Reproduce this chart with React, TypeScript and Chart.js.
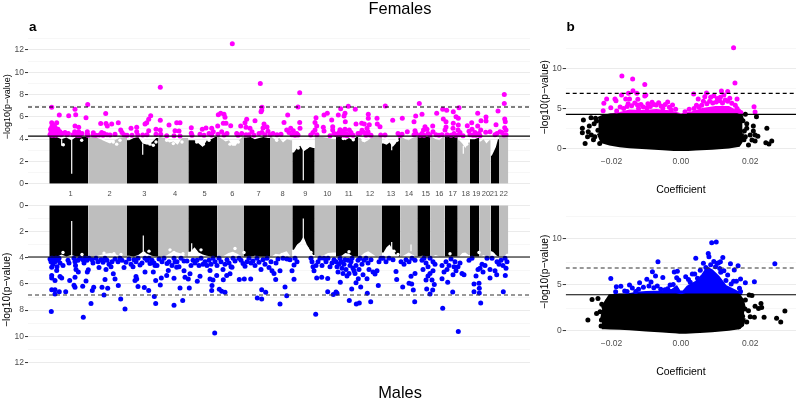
import { useEffect, useRef } from "react";
import { Chart, registerables } from "chart.js";

Chart.register(...registerables);

type P = [number, number];

// Manhattan panels: genome position (0 = start of chromosome 1)
const chromNames = ["1","2","3","4","5","6","7","8","9","10","11","12","13","14","15","16","17","18","19","20","21","22"];
const chromStart = [0.3,39.3,78,109.5,139.3,168.3,195,221,243.3,265.7,287,309.3,333,351.3,368.3,381.3,395.7,408.7,421,430.3,441.7,450,459.3];
const chromTick = [21.7,60.7,95.3,126,155.7,183.3,209.7,233.7,256.3,278.3,299.7,321,342,360,376.7,390.3,403.7,416.7,427.3,437,445,454.7];

const femaleTops: number[][] = [
  [4.2,4.2,4.0,4.15,3.9,4.2,4.2,4.2],
  [4.2,4.2,4.0,3.8,3.6,3.9,4.15,4.2],
  [3.9,4.1,4.2,3.6,3.5,3.7,4.1],
  [4.2,4.1,3.7,3.8,3.5,4.1,4.1],
  [3.9,3.9,3.6,3.3,3.9,4.0,4.2],
  [4.2,4.0,3.8,3.9,3.4,3.4,3.9,4.2],
  [4.15,4.2,4.0,4.1,4.2,4.1],
  [4.2,3.9,4.1,3.7,4.0,3.9],
  [2.8,3.2,3.4,2.9,3.1,3.3,3.2],
  [4.2,4.2,4.1,4.0],
  [4.2,4.2,3.9,4.1,3.9,4.2],
  [4.1,3.7,3.9,4.2,4.2,4.2],
  [3.6,3.5,3.7,3.3,3.6,4.1],
  [4.2,4.0,3.9,4.1,4.2],
  [4.2,4.2,4.2,4.2],
  [4.2,4.0,3.9,4.2],
  [4.2,4.2,4.2,4.2],
  [3.9,3.6,3.2,3.7],
  [4.0,4.0,4.1],
  [3.8,4.0,3.6,3.9],
  [2.5,2.9,3.3,4.0],
  [4.2,4.2,4.2],
];
const maleTops: number[][] = [
  [3.9,3.95,3.75,3.9,3.8,3.9,3.9,3.9],
  [3.95,3.9,3.8,3.7,3.65,3.7,3.9,3.9],
  [3.85,3.9,3.8,3.55,3.7,3.85,3.9],
  [3.95,3.9,3.7,3.5,3.6,3.7,3.9],
  [3.55,3.2,3.6,3.75,3.85,3.9,3.95],
  [3.95,3.85,3.65,3.55,3.7,3.9],
  [3.9,3.9,3.85,3.9,3.9,3.9],
  [3.9,3.7,3.75,3.6,3.5,3.9],
  [3.4,3.0,2.8,2.4,3.0,3.4,3.8],
  [3.9,3.85,3.65,3.6],
  [3.9,3.85,3.65,3.7,3.9,3.9],
  [3.9,3.65,3.5,3.7,3.9,3.85],
  [3.6,3.2,3.0,3.4,3.75,3.9],
  [3.9,3.75,3.6,3.75,3.9],
  [3.9,3.85,3.9,3.9],
  [3.9,3.8,3.9,3.9],
  [3.9,3.9,3.9,3.9],
  [3.9,3.65,3.6,3.8],
  [3.9,3.9,3.9],
  [3.9,3.8,3.9,3.9],
  [3.5,3.6,3.8,3.9],
  [3.9,3.9,3.7],
];

// narrow centromere streaks: [position, from, to]
const femaleStreaks: number[][] = [[22.7,0.9,4.0],[12.7,3.4,4.0],[93.7,2.6,3.6],[254.3,0.3,3.0],[342.7,3.0,3.6],[414.3,2.7,3.4]];
const maleStreaks: number[][] = [[22.7,1.2,3.9],[94.3,2.3,3.7],[142.7,2.9,3.5],[254.3,1.0,3.3],[342.7,2.8,3.5],[362,3.0,3.5]];

const femaleGaps: P[] = [[14.3,3.5],[32.7,3.9],[54.3,4.05],[64.3,3.75],[67.7,3.55],[71,3.9],[94.3,4.05],[101,3.55],[104.3,3.45],[107,3.75],[117.7,3.9],[124.3,3.6],[133,3.75],[147.7,3.75],[154.3,3.55],[160,3.9],[181,3.55],[189.3,3.75],[227.7,3.9],[236,4.05],[249.3,3.2],[257.7,3.3],[294.3,4.05],[304.3,3.95],[314.3,3.9],[337.7,3.9],[344.3,3.75],[348,3.9],[417.7,3.55]];
const maleGaps: P[] = [[14,3.6],[33,3.75],[55,3.65],[65,3.7],[72,3.75],[95,3.65],[100,3.5],[121,3.4],[125,3.6],[134,3.7],[146,3.5],[152,3.4],[186,3.3],[195,3.6],[233,3.75],[238,3.85],[252,3.5],[258,3.3],[262,3.6],[300,3.55],[340,3.3],[345,3.5],[349,3.75],[401,3.7],[430,3.6]];

const femaleThreshold = 4.27;
const femaleGenomeWide = 6.88;
const maleThreshold = 3.95;
const maleGenomeWide = 6.85;

const femaleHits: P[] = [
  [2.7,6.86],[2.7,5.48],[2.7,5.1],[1,4.4],[1.5,4.9],[2,4.6],[3,4.35],[3.3,5.0],[4,4.5],[4,5.3],[5,4.4],[5.5,4.8],[6,5.1],[6.5,4.35],[7,4.6],[7.7,5.48],[8,4.4],[9,4.9],[10,4.5],[10.3,6.17],[11,4.67],[12,4.4],[13.7,4.5],[16,4.6],[18,4.4],
  [19.3,4.5],[19.7,6.1],[24,4.4],[25.7,4.67],[26,5.18],[26,6.68],[26.7,6.2],[27,4.4],[28.5,4.35],[29.7,4.67],[29.7,5.06],[31,4.35],[33,4.5],[37,5.93],[38.3,4.67],[38.3,4.43],[38.7,7.1],[39,4.35],
  [44.3,4.58],[44.3,4.37],[47,4.35],[50.3,4.37],[51.7,5.4],[52.7,4.6],[54,4.35],[55,4.5],[56.7,6.3],[57,5.4],[58.3,5.18],[58,4.4],[61,4.37],[62.7,5.36],[66,4.43],[69.3,5.48],[71.7,4.82],[73,4.6],[75,4.4],[78,4.35],
  [82,4.97],[83,4.35],[87.7,5.06],[87.7,4.67],[88.7,4.37],[93.7,4.37],[96,5.36],[97.7,5.48],[99.7,5.78],[101.7,6.1],[99.7,4.76],[98,4.4],[107,4.88],[107,4.43],[111.3,8.65],[111.3,5.69],[111.3,4.82],[111.7,4.43],
  [117.7,4.31],[120,5.27],[126,4.76],[127.7,5.48],[131,5.48],[130,4.73],[131,4.28],[125,4.3],[142.3,5.03],[142.3,4.52],[143,4.35],[153.3,4.88],[157,5],[151,4.43],[155,4.34],[162.7,4.97],[164.3,4.67],[162.7,4.37],[160,4.5],
  [168.7,5.18],[169.3,6.2],[171.7,6.32],[175,6.23],[176,5.96],[174.3,5.42],[177,5.42],[181.7,5.2],[183.3,12.57],[172.7,4.67],[175,4.37],[169,4.45],[178,4.5],[187.7,4.5],[191.7,5.18],[192.7,4.5],[189,4.35],[196,5.48],[197.7,5.78],[197,5.06],[197,4.4],[201,4.97],[203,4.67],[200,4.4],[205,4.35],
  [206,5.66],[211.3,9.0],[213,6.86],[212.7,6.6],[212,6.47],[215,5.36],[214,5.0],[213,4.6],[216,4.4],[210,4.5],[218,5.1],[219,4.7],[221,4.4],[224,4.5],[228,4.4],[232,4.45],
  [235,5.5],[238.7,6.17],[237.7,4.82],[241.7,4.97],[244.3,4.76],[240,4.6],[247.7,4.5],[250.7,8.17],[249,6.89],[250.7,5.5],[251,4.97],[249,4.37],[243,4.4],[246,4.35],
  [267,5.93],[266,5.5],[267.7,5.18],[266,4.82],[261.7,4.37],[264,4.6],[268,4.4],[275,6.17],[278.3,6.32],[274.3,5.06],[275,4.73],[282.7,5.72],[283.7,5.12],[283.7,4.82],[281,4.31],[285,4.5],[287,4.45],
  [289.3,6.17],[291.7,6.74],[296,6.32],[295,6.08],[296.3,5.57],[299.3,6.95],[306.3,6.68],[307,5.36],[300.3,4.82],[288,4.4],[290,4.6],[291,4.85],[292,4.4],[293.5,4.7],[295,4.35],[296,4.9],[297,4.5],[298,4.3],[300,4.4],[302,4.6],[304,4.35],[309,4.5],
  [312.7,5.42],[315.3,5.36],[319.3,6.23],[319.3,5.87],[320.3,5.3],[318,4.97],[319,4.67],[311,4.5],[313,4.8],[315,4.6],[317,4.35],[320,4.4],[322,4.35],[328,5.87],[328.3,5.36],[331,5.12],[331.7,4.37],
  [336.3,6.98],[336,4.37],[343.7,5.69],[353.3,5.87],[349,4.5],[353,4.43],[351,4.33],[358.3,4.67],[366.7,6.08],[365,5.57],[366,4.76],[365,4.4],[367,4.5],[370.3,7.19],[373,6.23],[376,5.12],[374.5,4.82],[373,4.5],[378,4.9],[371,4.35],[375,4.35],
  [383.7,5.18],[384,4.67],[381,4.37],[379,4.5],[387,4.4],[387.7,6.32],[393.7,6.68],[397.7,6.59],[394.3,5.81],[397,5.57],[396,4.82],[397,5.1],[393,4.4],[390,4.35],[398,4.4],
  [404.3,6.47],[410,6.83],[407,6.02],[409.3,5.87],[404.3,5.42],[409.3,5.27],[404,4.97],[409,4.82],[402,4.35],[405,4.5],[407,4.35],[410,4.4],[411,4.6],[414,4.3],
  [418.3,5.21],[422.7,5.48],[428.7,6.32],[428.7,5.18],[431.7,4.82],[432,5.66],[420,4.7],[421,4.4],[424,4.35],[423,4.9],[426,4.6],[427,4.35],[430,4.5],[431,4.3],[437,5.99],[437,5.63],[436.7,4.61],[441,4.67],
  [447,5.3],[449,6.53],[455.3,8.02],[455.3,7.19],[455.7,5.81],[456.3,5.57],[455.7,5.03],[457,4.82],[455,4.37],[451,4.67],[448,4.5],[453,4.6],[457,4.4],[446,4.4],
];

const maleHits: P[] = [
  [2.3,8.1],[34.3,8.54],[76,7.92],[71.7,7.15],[42,7.49],[55,6.85],[106.7,7.49],[105.3,6.97],[99.7,6.51],[95.3,6.28],[125,7.62],[133.7,7.26],[165.7,9.74],[162.7,6.51],[163,6.13],[131,6.31],
  [2.7,6.44],[6,6.44],[6,6.77],[10.3,6.59],[16.7,6.59],[26,6.26],[25,6.1],[33.7,6.18],[44.7,6.26],[43.3,6.51],[37,5.77],[20.7,5.74],[53,6.26],[58.7,6.33],[69.3,6.13],[89,6.2],[111.3,6.08],[106.7,5.74],[125,5.56],[112.3,5.54],[140.3,6.31],[148.3,5.79],[151,5.41],[161,5.62],[164,5.7],
  [170.3,6.41],[172.7,6.56],[176,6.64],[174.3,5.69],[177.7,5.36],[190.3,5.67],[195.3,5.62],[201.7,5.62],[208.3,7.08],[212.7,7.15],[212.7,6.44],[216.7,6.64],
  [2.7,5.54],[6,5.74],[2.7,5.36],[11,5.44],[12.7,5.54],[2.7,4.72],[7.7,4.97],[26,5.49],[29.3,5.1],[38.3,5.1],[39.3,4.92],[56,5.67],[66,5.62],[64.3,5.23],[87.7,5.62],[86,5.74],[87,5.44],[96,5.1],[104.3,5.1],[106,4.6],[117.7,5.36],[119.3,4.97],[127.7,4.72],[126,4.33],[136,5.49],[139.3,5.62],[135,5],[141,5.23],[161,4.97],[167.7,5.36],[183,4.72],[181,5.23],
  [1,4.1],[2,4.3],[3,4.05],[4,4.5],[5,4.15],[6,4.3],[7,4.05],[8,4.7],[9,4.2],[10,4.05],[11,4.4],[14,4.6],[19,4.2],[20,4.4],[25,4.05],[26,4.3],[26.5,4.6],[27,4.9],[29,4.2],[31,4.05],[34,4.15],[35,4.4],[36,4.05],[38,4.2],[40,4.05],[43,4.15],[44,4.4],[47,4.05],[49,4.3],[50,4.75],[52,4.15],[54,4.35],[56,4.05],[57,4.9],[58,4.2],[60,4.5],[62,4.7],[63,4.3],[66,4.1],[69,4.3],[71,4.05],[73,4.2],[75,4.75],[77,4.35],[80,4.1],[82,4.5],[84,4.7],[85,4.15],[87,4.3],[89,4.05],[91,4.55],[93,4.4],[96,4.05],[98,4.2],[100,4.05],[101,4.45],[103,4.2],[105,4.4],[108,4.6],[110,4.1],[113,4.3],[115,4.05],[118,4.45],[120,4.3],[123,4.6],[125,4.05],[128,4.3],[130,4.7],[132,4.05],[135,4.25],[138,4.25],[142,4.6],[144,4.2],[146,4.4],[148,4.2],[150,4.6],[152,4.05],[154,4.5],[156,4.3],[158,4.6],[160,4.2],[162,4.5],[164,4.05],[166,4.3],[168,4.6],[170,4.05],[172,4.3],[174,4.9],[176,4.5],[178,4.15],[180,4.4],[182,4.7],[184,4.05],[186,4.25],[190,4.05],[192,4.2],[194,4.45],[196,4.65],[198,4.3],[200,4.05],[202,4.4],[204,4.25],[206,4.6],[208,4.05],[210,4.35],[212,4.9],[214,4.15],[216,4.5],[218,4.05],[220,4.75],[222,4.3],
  [231,7.54],[237.7,6.9],[236,6.23],[226.7,5.67],[245,5.64],[231,5],[225,5.2],[223,5.0],[227,4.4],[229,4.1],[243,5],[245,4.55],[248,4.3],[234,4.05],[238,4.1],[241,4.15],[246,4.05],
  [266.7,8.31],[267.7,5.54],[272.7,5.49],[278.7,5.59],[278.7,6.59],[284.3,6.8],[287,6.62],[288,6.72],[291.3,5.87],[302.7,6.38],[300.3,7.26],[307.3,7.54],[310.3,7.46],[311.7,6.23],[307,5.92],[309.3,5.6],[318.3,6.72],[321.7,7.36],[329.3,6.13],[318,5.6],[314,5.3],
  [262,4.05],[263,4.3],[264,4.7],[265,5],[267,4.6],[269,4.3],[271,4.05],[273,4.6],[275,4.05],[277,4.3],[279,4.05],[281,4.7],[283,4.4],[285,4.15],[287,4.3],[288,4.7],[289,5.1],[290,4.5],[291,4.05],[292,4.3],[293,4.8],[294,5.2],[295,4.5],[296,4.15],[297,4.9],[298,5.4],[299,4.2],[300,5.2],[301,4.6],[302,4.3],[303,4.05],[304,4.8],[305,5.0],[306,5.2],[307,4.6],[309,4.2],[310,4.9],[311,4.05],[313,4.5],[315,4.2],[317,4.05],[319,4.4],[320,4.9],[322,4.15],[324,5.1],[326,5.25],[328,5.0],[330,4.3],[332,4.05],[334,4.05],[337,4.3],[340,4.05],[344,4.15],[347,5.05],[347.7,5.67],[353.7,6.23],[360,5.95],[364.3,6.46],[365.7,7.36],[362,5.41],[362.7,6.0],[366,5.2],[352,4.3],[355,4.5],[357,4.15],[360,4.3],[363,4.05],[366,4.2],
  [377.7,6.38],[381,6.77],[383.7,6.46],[385.3,6.05],[393.7,7.85],[409.3,9.64],[403.7,6.62],[398.7,5.87],[393,5.6],[374,4.9],[377,5.7],[379,5.4],[381,5.2],[383,5.7],[384,5.0],[373,4.2],[375,4.05],[377,4.4],[379,4.7],[381,4.05],[384,4.3],[386,4.5],[393,4.6],[395,5.1],[397,4.3],[398,4.9],[400,4.6],[402,4.1],[404,5.3],[405,4.7],[406,4.3],[407,5.0],[409,4.7],[411,4.4],[413,5.2],[415,5.3],
  [425,6.59],[430.3,6.69],[431.7,7.46],[430.3,6.33],[430,5.95],[425,6],[454.3,6.59],[447.7,5.3],[456.3,5.36],[441,5.54],[420,4.2],[423,4.05],[427,5.4],[429,4.9],[431,4.8],[433,4.5],[434,5.1],[436,4.6],[438,4.05],[441,4.9],[443,4.05],[446,5.0],[448,4.3],[450,4.5],[452,4.2],[454,4.6],[456,4.05],[457,4.8],[458,4.3],
];

// Volcano panels
const coefTicks = [-0.02, 0, 0.02];
const coefTickLabels = ["\u22120.02", "0.00", "0.02"];

const femaleCloudX = [-0.0238,-0.0228,-0.0205,-0.0176,-0.0148,-0.01,-0.0052,-0.0014,0,0.0014,0.0043,0.009,0.0138,0.0167,0.0174,0.0178];
const femaleCloudTop = [3.78,3.98,4.19,4.23,4.23,4.23,4.23,4.23,4.1,4.23,4.23,4.23,4.23,4.23,4.19,3.57];
const femaleCloudBottom = [1.91,0.87,0.58,0.37,0.25,0.12,0,-0.12,-0.17,-0.12,-0.04,0.04,0.21,0.41,0.87,1.91];
const femaleCapX = [-0.0205,-0.0176,-0.0148,-0.0109,-0.0071,-0.0033,-0.001,0,0.001,0.0033,0.0062,0.01,0.0138,0.0162,0.0176];
const femaleCapTop = [4.27,4.45,4.75,4.7,4.8,4.65,4.4,4.27,4.35,4.55,4.95,5.2,5.2,4.6,4.27];

const maleCloudX = [-0.0228,-0.0219,-0.0205,-0.0176,-0.0148,-0.01,-0.0052,-0.0014,0,0.0014,0.0043,0.009,0.0138,0.0167,0.0178,0.0183];
const maleCloudTop = [1.38,3.0,3.85,3.92,3.92,3.92,3.92,3.92,3.85,3.92,3.92,3.92,3.92,3.92,3.37,2.5];
const maleCloudBottom = [0.36,0.36,0.33,0.29,0.25,0.11,0,-0.11,-0.18,-0.15,-0.08,0.04,0.18,0.36,0.65,1.4];
const maleCapX = [-0.019,-0.0157,-0.0129,-0.0100,-0.0052,-0.0024,-0.0012,-0.0003,0.0007,0.0019,0.0043,0.0062,0.0076,0.009,0.0109,0.0129,0.0157,0.0176];
const maleCapTop = [3.95,3.95,4.15,4.25,4.3,4.5,4.85,4.3,4.3,4.85,5.35,6.1,6.9,6.6,5.9,4.9,4.4,3.95];

const femaleCoefHits: P[] = [
  [-0.017,9.05],[-0.0139,8.67],[-0.0104,8.0],[-0.0104,6.56],[-0.0101,6.68],[-0.0138,7.2],[-0.0151,6.89],[-0.0127,6.89],[-0.0171,6.68],[-0.0214,6.18],[-0.019,6.18],[-0.0187,5.98],[-0.0222,5.64],[-0.0224,4.73],[-0.0202,5.1],[-0.0159,6.18],[-0.0148,6.18],[-0.0124,6.15],[-0.0152,5.6],[-0.0083,5.77],[-0.0064,5.73],[-0.0038,5.8],[-0.0024,5.44],[-0.0057,5.3],[-0.0071,5.44],[-0.0175,5.2],[-0.0185,4.7],[-0.0165,5.0],[-0.0133,5.7],[-0.0115,5.5],[-0.0095,5.6],[-0.0045,5.5],[-0.0015,4.9],[-0.0028,4.8],
  [-0.0155,5.25],[-0.0142,5.35],[-0.0125,5.45],[-0.0108,5.2],[-0.0088,5.25],[-0.0078,5.5],[-0.0052,5.05],[-0.0033,5.15],[-0.0122,5.0],[-0.0098,5.05],
  [0.0037,6.8],[0.005,6.18],[0.0074,6.93],[0.0069,6.47],[0.0117,7.18],[0.0135,7.1],[0.0124,6.68],[0.0152,12.57],[0.0156,8.17],[0.0162,6.18],[0.0141,6.27],[0.0114,6.4],[0.0095,6.6],[0.0086,6.4],[0.0211,5.23],[0.0214,4.56],[0.0162,5.0],[0.0167,4.7],[0.0157,5.4],[0.0105,6.25],[0.0135,5.9],[0.0065,5.9],[0.0052,5.2],[0.0038,5.0],[0.0024,4.9],[0.0012,4.6],[0.0173,4.5],
  [0.0075,5.6],[0.0083,5.9],[0.0092,5.7],[0.0102,5.8],[0.0112,5.95],[0.012,5.7],[0.0128,6.05],[0.0147,5.65],[0.006,5.4],[0.0045,5.4],
];
const femaleCoefBelow: P[] = [
  [-0.0281,3.57],[-0.0259,3.86],[-0.0246,3.78],[-0.0243,3.45],[-0.0284,2.53],[-0.0284,1.99],[-0.0264,2.82],[-0.0267,2.1],[-0.0276,0.66],[-0.025,3.1],[-0.0269,1.5],[-0.0248,1.5],[-0.0252,1.1],[-0.0234,0.66],[-0.0239,2.3],[-0.0258,1.7],
  [0.0186,4.27],[0.0218,3.98],[0.0179,3.49],[0.019,2.53],[0.0209,2.82],[0.0209,2.2],[0.0248,2.53],[0.0186,1.5],[0.02,1.7],[0.0214,1.7],[0.0222,1.55],[0.0205,1.08],[0.0214,0.95],[0.0195,0.46],[0.0245,0.75],[0.0254,0.58],[0.0262,0.95],[0.019,3.1],[0.0183,2.2],[0.0182,1.1],
];
const maleCoefHits: P[] = [
  [0.0271,7.32],[-0.0066,7.54],[-0.0202,5.72],[-0.0186,4.82],[-0.0173,4.86],[-0.0188,4.28],[-0.0162,4.35],[-0.0148,5],[-0.014,4.67],[-0.0119,5.25],[-0.0098,5.62],[-0.0082,6.45],[-0.0073,5.98],[-0.0086,5.33],[-0.0052,5.83],[-0.0019,6.41],[-0.001,6.49],[-0.0012,5.8],[-0.0006,5.55],[-0.0031,5.0],[-0.0046,4.5],[-0.013,4.3],[-0.0155,4.3],[-0.0068,4.9],
  [-0.0108,4.75],[-0.0092,4.9],[-0.0078,4.7],[-0.0058,4.55],[-0.0038,4.6],[-0.0022,5.05],[-0.0122,4.55],
  [0.0043,7.9],[0.0089,9.6],[0.0102,9.67],[0.0079,8.44],[0.0081,8.08],[0.0121,8],[0.0114,7.54],[0.0105,7.36],[0.0143,7.32],[0.0165,7.1],[0.0154,6.63],[0.0065,7.36],[0.0086,7.2],[0.0124,6.56],[0.0172,5.65],[0.0212,5.36],[0.0186,5.25],[0.0169,4.64],[0.0172,4.3],[0.0033,6.2],[0.004,6.2],[0.0014,5.9],[0.0108,7.4],[0.0135,6.1],[0.0152,5.4],[0.016,5.4],[0.0056,6.6],[0.01,7.0],[0.0022,5.6],
  [0.0048,5.75],[0.0027,5.3],[0.0115,6.4],[0.013,5.5],[0.0145,5.1],[0.0072,6.9],[0.0095,7.55],[0.0112,6.8],
];
const maleCoefBelow: P[] = [
  [-0.0268,1.2],[-0.0256,3.44],[-0.0239,3.55],[-0.0243,1.9],[-0.0233,2.1],[-0.0222,2.64],[-0.0212,3.2],[-0.0228,2.9],[-0.0229,1.2],[-0.023,0.55],[-0.0224,0.55],[-0.0208,2.4],[-0.0195,3.7],
  [0.0197,3.91],[0.0186,3.37],[0.0169,3.3],[0.0172,2.2],[0.0195,2.2],[0.0214,2.7],[0.0224,2.45],[0.0231,3],[0.0233,2.55],[0.024,1.49],[0.0276,1.38],[0.03,2.17],[0.0288,0.98],[0.02,1.56],[0.0212,1.49],[0.019,0.98],[0.0167,0.47],[0.0205,3.85],[0.0185,2.4],[0.0178,1.6],
];

const FONT = "'Liberation Sans', Arial, sans-serif";
const GREY = "#4d4d4d";
const MAGENTA = "#ff00ff";
const BLUE = "#0000ff";

const yGrid = (isMajor: (v: number) => boolean) => ({
  drawTicks: true,
  tickLength: 3,
  color: (c: any) => (isMajor(c.tick.value) ? "#ebebeb" : "#f3f3f3"),
  lineWidth: (c: any) => (isMajor(c.tick.value) ? 1.1 : 0.7),
  tickColor: (c: any) => (isMajor(c.tick.value) ? "#333333" : "rgba(0,0,0,0)"),
  tickWidth: 1,
});

const zip = (xs: number[], ys: number[]) => xs.map((x, i) => ({ x, y: ys[i] }));
const toXY = (ps: P[]) => ps.map(([x, y]) => ({ x, y }));

const lineDs = (xs: number[], y: number, dash: number[] | null, color = "#000") => ({
  data: [{ x: xs[0], y }, { x: xs[1], y }],
  showLine: true, pointRadius: 0, borderColor: color, borderWidth: 1.1, borderDash: dash ?? [],
});
const dots = (ps: P[], color: string, r = 2.5) => ({
  data: toXY(ps), pointRadius: r, pointBackgroundColor: color, pointBorderWidth: 0, clip: false as any,
});

function manhattanDatasets(tops: number[][], streaks: number[][], gaps: P[], hits: P[], thr: number, gw: number, color: string, dashColor: string) {
  const xr = [-21, 481];
  const mass = tops.map((row, c) => {
    const s = chromStart[c];
    const e = chromStart[c + 1];
    const w = (e - s) / row.length;
    const pts = [
      { x: s, y: row[0] },
      ...row.map((y, i) => ({ x: s + (i + 0.5) * w, y })),
      { x: e, y: row[row.length - 1] },
    ];
    return {
      data: pts, showLine: true, pointRadius: 0, borderWidth: 0,
      fill: "origin", backgroundColor: c % 2 === 0 ? "#000000" : "#bebebe",
    };
  });
  const streakDs = streaks.map(([x, a, b]) => ({
    data: [{ x, y: a }, { x, y: b }], showLine: true, pointRadius: 0, borderColor: "#fff", borderWidth: 1.2,
  }));
  return [
    lineDs(xr, thr, null),
    lineDs(xr, gw, [4, 3], dashColor),
    dots(hits, color),
    { data: toXY(gaps), pointRadius: 1.7, pointBackgroundColor: "#fff", pointBorderWidth: 0 },
    ...streakDs,
    ...mass,
  ];
}

function volcanoDatasets(cx: number[], top: number[], bottom: number[], capX: number[], capTop: number[], hits: P[], below: P[], thr: number, gw: number, color: string, dashColor: string) {
  const xr = [-0.0332, 0.0332];
  const black = "#000";
  return [
    lineDs(xr, thr, null),
    lineDs(xr, gw, [4, 3], dashColor),
    dots(hits, color),
    dots(below, black),
    {
      data: zip(cx, top), showLine: true, pointRadius: 0, borderColor: black, borderWidth: 3,
      fill: "+1", backgroundColor: black,
    },
    { data: zip(cx, bottom), showLine: true, pointRadius: 0, borderColor: black, borderWidth: 3 },
    {
      data: zip(capX, capTop), showLine: true, pointRadius: 0, borderColor: color, borderWidth: 2,
      fill: { value: thr }, backgroundColor: color,
    },
  ];
}

const evenMajor = (v: number) => v % 2 === 0;
const fiveMajor = (v: number) => v % 5 === 0;
const manhattanFemaleTicks = [0,1,2,3,4,5,6,7,8,9,10,11,12,13];
const manhattanMaleTicks = [0,1,2,3,4,5,6,7,8,9,10,11,12];
const volcanoTicks = [0,2.5,5,7.5,10,12.5];

function yScale(min: number, max: number, ticks: number[], isMajor: (v: number) => boolean, width: number, titlePad: number, titleSize: number, reverse = false) {
  return {
    type: "linear", min, max, reverse,
    afterFit: (s: any) => { s.width = width; },
    afterBuildTicks: (s: any) => { s.ticks = ticks.map((value) => ({ value })); },
    border: { display: false },
    grid: yGrid(isMajor),
    ticks: {
      autoSkip: false, padding: 1, color: GREY, font: { family: FONT, size: 8.5 },
      callback: (v: any) => (isMajor(Number(v)) ? String(v) : ""),
    },
    title: {
      display: true, text: "\u2212log10(p\u2212value)", color: "#000",
      font: { family: FONT, size: titleSize }, padding: { top: titlePad, bottom: 0 },
    },
  };
}

function manhattanX(show: boolean) {
  return {
    type: "linear", min: -21, max: 481, display: show,
    afterFit: (s: any) => { s.height = show ? 17 : 0; },
    afterBuildTicks: (s: any) => { s.ticks = chromTick.map((value) => ({ value })); },
    border: { display: false },
    grid: { display: false, drawTicks: false },
    ticks: {
      autoSkip: false, maxRotation: 0, minRotation: 0, padding: 6, color: GREY,
      font: { family: FONT, size: 7.5 },
      callback: (_v: any, i: number) => chromNames[i],
    },
  };
}

function volcanoX() {
  return {
    type: "linear", min: -0.0332, max: 0.0332,
    afterFit: (s: any) => { s.height = 45; },
    afterBuildTicks: (s: any) => { s.ticks = coefTicks.map((value) => ({ value })); },
    border: { display: false },
    grid: { display: false, drawTicks: false },
    ticks: {
      autoSkip: false, maxRotation: 0, minRotation: 0, padding: 5, color: GREY,
      font: { family: FONT, size: 8.5 },
      callback: (_v: any, i: number) => coefTickLabels[i],
    },
    title: {
      display: true, text: "Coefficient", color: "#000",
      font: { family: FONT, size: 10.5 }, padding: { top: 0, bottom: 0 },
    },
  };
}

function config(datasets: any[], x: any, y: any, padding: any) {
  return {
    type: "scatter",
    data: { datasets },
    options: {
      responsive: false,
      animation: false,
      layout: { padding },
      plugins: { legend: { display: false }, tooltip: { enabled: false }, title: { display: false } },
      scales: { x, y },
    },
  } as any;
}

const configs = [
  config(
    manhattanDatasets(femaleTops, femaleStreaks, femaleGaps, femaleHits, femaleThreshold, femaleGenomeWide, MAGENTA, "#000"),
    manhattanX(true),
    yScale(0, 13.8, manhattanFemaleTicks, evenMajor, 28, 2, 9),
    { left: 0, right: 270, top: 30, bottom: 200.3 },
  ),
  config(
    manhattanDatasets(maleTops, maleStreaks, maleGaps, maleHits, maleThreshold, maleGenomeWide, BLUE, "#333"),
    manhattanX(false),
    yScale(0, 12.9, manhattanMaleTicks, evenMajor, 28, 1.2, 10.3, true),
    { left: 0, right: 270, top: 205.3, bottom: 26.7 },
  ),
  config(
    volcanoDatasets(femaleCloudX, femaleCloudTop, femaleCloudBottom, femaleCapX, femaleCapTop, femaleCoefHits, femaleCoefBelow, femaleThreshold, femaleGenomeWide, MAGENTA, "#000"),
    volcanoX(),
    yScale(-0.3, 13.1, volcanoTicks, fiveMajor, 29.7, 3, 10.3),
    { left: 536, right: 2, top: 43.4, bottom: 204.9 },
  ),
  config(
    volcanoDatasets(maleCloudX, maleCloudTop, maleCloudBottom, maleCapX, maleCapTop, maleCoefHits, maleCoefBelow, maleThreshold, maleGenomeWide, BLUE, "#333"),
    volcanoX(),
    yScale(-0.3, 13.2, volcanoTicks, fiveMajor, 29.7, 3, 10.3),
    { left: 536, right: 2, top: 209.6, bottom: 22.2 },
  ),
];

const label = (text: string, left: number, top: number, style: any) => (
  <div style={{ position: "absolute", left, top, fontFamily: FONT, lineHeight: "16px", color: "#000", whiteSpace: "nowrap", ...style }}>{text}</div>
);

export default function App() {
  const refs = useRef<(HTMLCanvasElement | null)[]>([]);
  useEffect(() => {
    document.body.style.margin = "0";
    document.body.style.background = "#fff";
    const charts = configs.map((c, i) => new Chart(refs.current[i] as HTMLCanvasElement, c));
    return () => charts.forEach((c) => c.destroy());
  }, []);
  return (
    <div style={{ position: "relative", width: 800, height: 401, overflow: "hidden", background: "#fff" }}>
      {configs.map((_, i) => (
        <canvas
          key={i}
          ref={(el) => { refs.current[i] = el; }}
          width={800}
          height={401}
          style={{ position: "absolute", left: 0, top: 0, width: 800, height: 401 }}
        />
      ))}
      {label("Females", 0, 0, { width: 800, textAlign: "center", fontSize: 16.4 })}
      {label("Males", 0, 384, { width: 800, textAlign: "center", fontSize: 16.4 })}
      {label("a", 29, 19, { fontSize: 13.5, fontWeight: 700 })}
      {label("b", 566.5, 19, { fontSize: 13.5, fontWeight: 700 })}
    </div>
  );
}
